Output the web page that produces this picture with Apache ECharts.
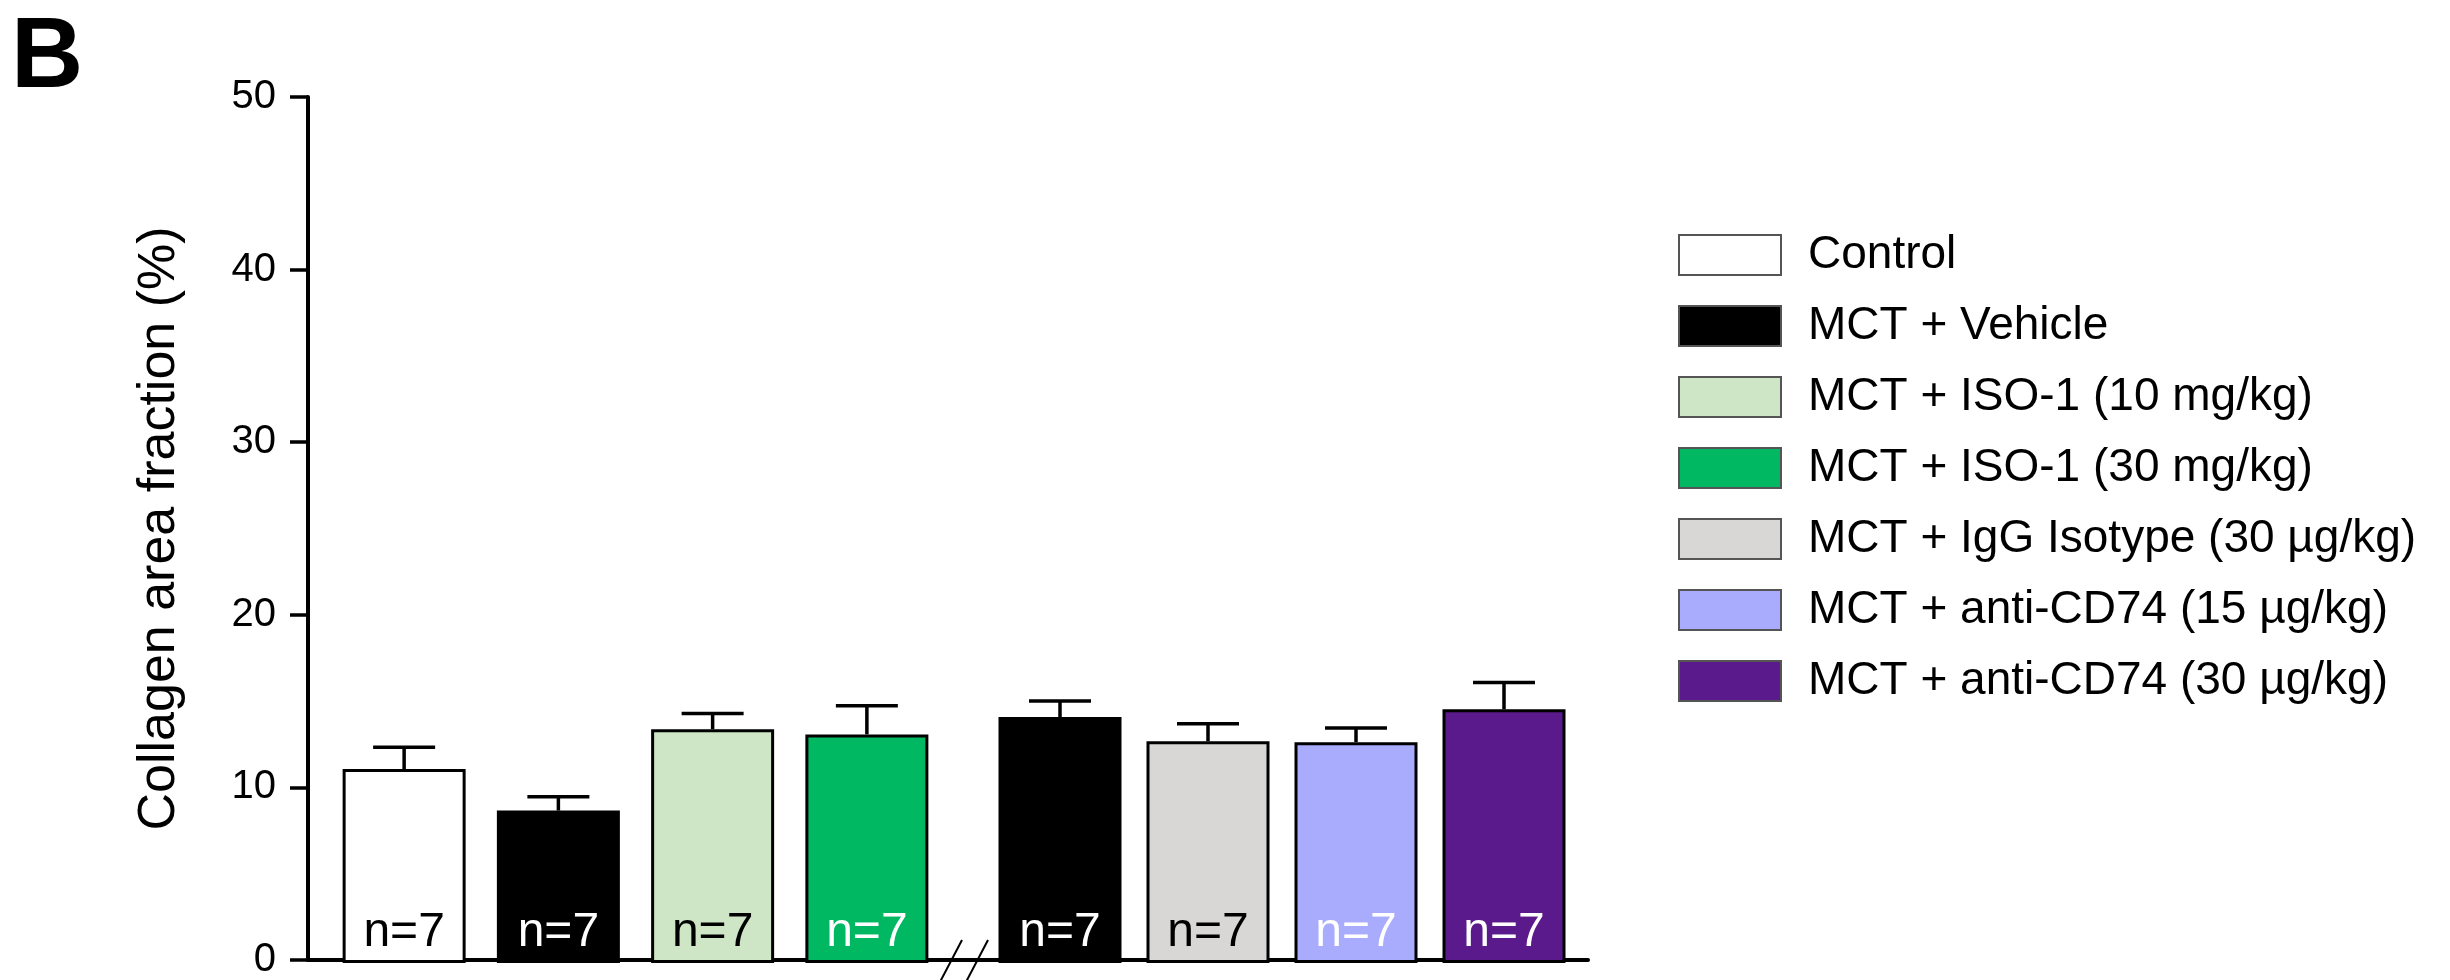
<!DOCTYPE html>
<html>
<head>
<meta charset="utf-8">
<script src="https://cdn.jsdelivr.net/npm/echarts@6/dist/echarts.min.js"></script>
<style>
html,body{margin:0;padding:0;background:#fff;}
#chart{width:2450px;height:980px;}
</style>
</head>
<body>
<div id="chart"></div>
<script>
// ---- data ----
const categories = [
  'Control',
  'MCT + Vehicle',
  'MCT + ISO-1 (10 mg/kg)',
  'MCT + ISO-1 (30 mg/kg)',
  'MCT + Vehicle',
  'MCT + IgG Isotype (30 µg/kg)',
  'MCT + anti-CD74 (15 µg/kg)',
  'MCT + anti-CD74 (30 µg/kg)'
];
const means = [11.2, 8.8, 13.5, 13.2, 14.2, 12.8, 12.75, 14.65];
const sems  = [1.25, 0.8, 0.9, 1.65, 0.93, 1.02, 0.82, 1.55];
const nLabels = ['n=7','n=7','n=7','n=7','n=7','n=7','n=7','n=7'];
const yTicks = [0, 10, 20, 30, 40, 50];
const yAxisTitle = 'Collagen area fraction (%)';
const panelLetter = 'B';

// ---- styles ----
const barColors = ['#ffffff','#000000','#cee6c5','#00b862','#000000','#d8d7d5','#a9acfd','#5b1a8c'];
const labelColors = ['#000','#fff','#000','#fff','#fff','#000','#fff','#fff'];
const FONT = 'Liberation Sans, Arial, Helvetica, sans-serif';

const groupSize = 4;
const slots = ['a','b','c','d'];

const series = [];
categories.forEach((name, i) => {
  const g = Math.floor(i / groupSize) + 1;
  const idx = i % groupSize;
  const data = slots.map((_, k) => k === idx ? means[i] : '-');
  series.push({
    type: 'bar',
    name: name,
    xAxisIndex: g,
    yAxisIndex: g,
    data: data,
    barWidth: 123,
    barGap: '-100%',
    z: 3,
    itemStyle: { color: barColors[i], borderColor: '#000', borderWidth: 3 },
    label: {
      show: true,
      position: 'insideBottom',
      distance: 6,
      formatter: () => nLabels[i],
      color: labelColors[i],
      fontSize: 48,
      fontFamily: FONT
    },
    emphasis: { disabled: true }
  });
});

// error bars per group
[1, 2].forEach(g => {
  const start = (g - 1) * groupSize;
  const data = [];
  for (let k = 0; k < groupSize; k++) {
    data.push([k, means[start + k], sems[start + k]]);
  }
  series.push({
    type: 'custom',
    xAxisIndex: g,
    yAxisIndex: g,
    z: 5,
    silent: true,
    data: data,
    renderItem: function (params, api) {
      const x = api.value(0);
      const m = api.value(1);
      const s = api.value(2);
      const p0 = api.coord([x, m]);
      const p1 = api.coord([x, m + s]);
      const half = 31;
      const st = { stroke: '#000', lineWidth: 3.5 };
      return {
        type: 'group',
        children: [
          { type: 'line', shape: { x1: p0[0], y1: p0[1], x2: p1[0], y2: p1[1] }, style: st },
          { type: 'line', shape: { x1: p1[0] - half, y1: p1[1], x2: p1[0] + half, y2: p1[1] }, style: st }
        ]
      };
    }
  });
});

const legendNames = [];
categories.forEach(n => { if (legendNames.indexOf(n) < 0) legendNames.push(n); });

const yBase = {
  type: 'value', min: yTicks[0], max: yTicks[yTicks.length - 1], interval: 10
};

const option = {
  backgroundColor: '#fff',
  animation: false,
  title: {
    text: panelLetter,
    left: 11, top: 9, padding: 0,
    textStyle: { fontSize: 100, fontWeight: 'bold', color: '#000', fontFamily: FONT }
  },
  legend: {
    data: legendNames,
    orient: 'vertical',
    left: 1678,
    top: 232,
    padding: 0,
    itemWidth: 102,
    itemHeight: 40,
    itemGap: 25,
    icon: 'rect',
    selectedMode: false,
    itemStyle: { borderColor: '#555', borderWidth: 2 },
    textStyle: { fontSize: 46, lineHeight: 46, color: '#000', fontFamily: FONT, padding: [0, 0, 0, 22] }
  },
  grid: [
    { left: 308, right: 862, top: 97, bottom: 17 },
    { left: 327, right: 1506, top: 97, bottom: 17 },
    { left: 986, right: 872, top: 97, bottom: 17 }
  ],
  xAxis: [
    { gridIndex: 0, type: 'value', min: 0, max: 1, splitLine: { show: false },
      axisLabel: { show: false }, axisTick: { show: false },
      axisLine: { show: true, onZero: false, lineStyle: { color: '#000', width: 4 } } },
    { gridIndex: 1, type: 'category', data: slots, show: false },
    { gridIndex: 2, type: 'category', data: slots, show: false }
  ],
  yAxis: [
    Object.assign({}, yBase, {
      gridIndex: 0,
      name: yAxisTitle,
      nameLocation: 'middle',
      nameRotate: 90,
      nameGap: 122,
      nameTextStyle: { fontSize: 52, color: '#000', fontFamily: FONT },
      splitLine: { show: false },
      axisLine: { show: true, lineStyle: { color: '#000', width: 4 } },
      axisTick: { show: true, length: 18, lineStyle: { color: '#000', width: 3.5 } },
      axisLabel: { fontSize: 40, color: '#000', margin: 32, fontFamily: FONT }
    }),
    Object.assign({}, yBase, { gridIndex: 1, show: false, splitLine: { show: false } }),
    Object.assign({}, yBase, { gridIndex: 2, show: false, splitLine: { show: false } })
  ],
  graphic: [
    { type: 'line', z: 100, shape: { x1: 962, y1: 940, x2: 940, y2: 982 }, style: { stroke: '#000', lineWidth: 2 } },
    { type: 'line', z: 100, shape: { x1: 988, y1: 940, x2: 966, y2: 982 }, style: { stroke: '#000', lineWidth: 2 } }
  ],
  series: series
};

const chart = echarts.init(document.getElementById('chart'));
chart.setOption(option);
</script>
</body>
</html>
